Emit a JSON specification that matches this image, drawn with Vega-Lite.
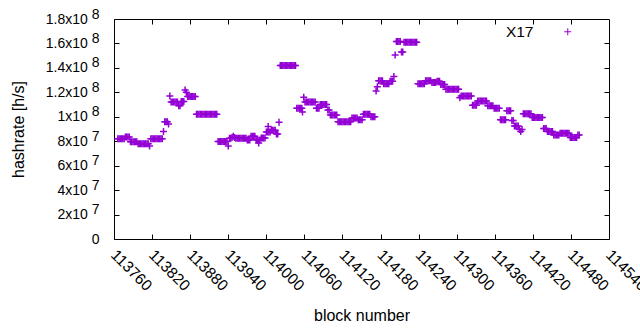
{
  "$schema": "https://vega.github.io/schema/vega-lite/v6.json",
  "width": 495,
  "height": 220,
  "autosize": {"type": "none"},
  "padding": {"left": 114, "top": 19, "right": 31, "bottom": 91},
  "background": "white",
  "config": {
    "view": {"stroke": "black", "strokeWidth": 1},
    "font": "Liberation Sans",
    "axis": {"grid": false, "domain": false, "tickColor": "black", "tickSize": -5, "tickWidth": 1, "labelColor": "black", "titleColor": "black", "labelFont": "Liberation Sans", "titleFont": "Liberation Sans", "titleFontWeight": "normal"}
  },
  "data": {"values": [
    {"b":113766,"h":8.2e7},{"b":113768,"h":8.2e7},{"b":113770,"h":8.2e7},{"b":113772,"h":8.2e7},{"b":113774,"h":8.2e7},{"b":113776,"h":8.2e7},
    {"b":113778,"h":8.35e7},{"b":113780,"h":8.35e7},{"b":113782,"h":8.35e7},{"b":113784,"h":8.35e7},
    {"b":113786,"h":7.95e7},{"b":113788,"h":7.95e7},{"b":113790,"h":7.95e7},{"b":113792,"h":7.95e7},{"b":113794,"h":7.95e7},{"b":113796,"h":7.95e7},
    {"b":113798,"h":7.8e7},{"b":113800,"h":7.8e7},{"b":113802,"h":7.8e7},{"b":113804,"h":7.8e7},{"b":113806,"h":7.8e7},{"b":113808,"h":7.8e7},{"b":113810,"h":7.8e7},{"b":113812,"h":7.8e7},{"b":113814,"h":7.8e7},
    {"b":113816,"h":7.6e7},
    {"b":113818,"h":8.2e7},{"b":113820,"h":8.2e7},{"b":113822,"h":8.2e7},{"b":113824,"h":8.2e7},{"b":113826,"h":8.2e7},{"b":113828,"h":8.2e7},{"b":113830,"h":8.2e7},{"b":113832,"h":8.2e7},{"b":113834,"h":8.2e7},{"b":113836,"h":8.2e7},
    {"b":113838,"h":8.8e7},
    {"b":113840,"h":9.6e7},{"b":113842,"h":9.6e7},{"b":113844,"h":9.6e7},
    {"b":113846,"h":9.4e7},
    {"b":113848,"h":1.17e8},
    {"b":113850,"h":1.12e8},{"b":113852,"h":1.12e8},{"b":113854,"h":1.12e8},{"b":113856,"h":1.12e8},{"b":113858,"h":1.12e8},{"b":113860,"h":1.12e8},
    {"b":113862,"h":1.09e8},{"b":113864,"h":1.09e8},
    {"b":113866,"h":1.125e8},{"b":113868,"h":1.125e8},{"b":113870,"h":1.125e8},
    {"b":113872,"h":1.22e8},{"b":113874,"h":1.2e8},
    {"b":113876,"h":1.165e8},{"b":113878,"h":1.165e8},{"b":113880,"h":1.165e8},{"b":113882,"h":1.165e8},{"b":113884,"h":1.165e8},{"b":113886,"h":1.165e8},{"b":113888,"h":1.165e8},
    {"b":113890,"h":1.02e8},{"b":113892,"h":1.02e8},{"b":113894,"h":1.02e8},{"b":113896,"h":1.02e8},{"b":113898,"h":1.02e8},{"b":113900,"h":1.02e8},{"b":113902,"h":1.02e8},{"b":113904,"h":1.02e8},{"b":113906,"h":1.02e8},{"b":113908,"h":1.02e8},{"b":113910,"h":1.02e8},{"b":113912,"h":1.02e8},{"b":113914,"h":1.02e8},{"b":113916,"h":1.02e8},{"b":113918,"h":1.02e8},{"b":113920,"h":1.02e8},{"b":113922,"h":1.02e8},
    {"b":113924,"h":7.97e7},{"b":113926,"h":7.97e7},{"b":113928,"h":7.97e7},{"b":113930,"h":7.97e7},{"b":113932,"h":7.97e7},{"b":113934,"h":7.97e7},{"b":113936,"h":7.97e7},{"b":113938,"h":7.97e7},
    {"b":113940,"h":7.6e7},
    {"b":113942,"h":8.24e7},{"b":113944,"h":8.24e7},{"b":113946,"h":8.3e7},{"b":113948,"h":8.4e7},{"b":113950,"h":8.3e7},{"b":113952,"h":8.24e7},{"b":113954,"h":8.24e7},{"b":113956,"h":8.24e7},{"b":113958,"h":8.24e7},{"b":113960,"h":8.24e7},{"b":113962,"h":8.24e7},{"b":113964,"h":8.24e7},{"b":113966,"h":8.24e7},{"b":113968,"h":8.24e7},
    {"b":113970,"h":8.1e7},{"b":113972,"h":8.1e7},{"b":113974,"h":8.1e7},
    {"b":113976,"h":8.4e7},{"b":113978,"h":8.4e7},{"b":113980,"h":8.4e7},{"b":113982,"h":8.4e7},
    {"b":113984,"h":8.1e7},{"b":113986,"h":8.1e7},{"b":113988,"h":7.85e7},{"b":113990,"h":8.1e7},
    {"b":113992,"h":8.26e7},{"b":113994,"h":8.26e7},{"b":113996,"h":8.26e7},{"b":113998,"h":8.26e7},
    {"b":114000,"h":8.75e7},{"b":114002,"h":8.75e7},{"b":114003,"h":9.2e7},{"b":114004,"h":8.75e7},{"b":114006,"h":8.75e7},
    {"b":114008,"h":8.9e7},{"b":114010,"h":8.9e7},{"b":114012,"h":8.9e7},{"b":114014,"h":8.9e7},
    {"b":114016,"h":8.6e7},{"b":114018,"h":8.6e7},
    {"b":114020,"h":9.55e7},
    {"b":114022,"h":1.42e8},{"b":114024,"h":1.42e8},{"b":114026,"h":1.42e8},{"b":114028,"h":1.42e8},{"b":114030,"h":1.42e8},{"b":114032,"h":1.42e8},{"b":114034,"h":1.42e8},{"b":114036,"h":1.42e8},{"b":114038,"h":1.42e8},{"b":114040,"h":1.42e8},{"b":114042,"h":1.42e8},{"b":114044,"h":1.42e8},{"b":114046,"h":1.42e8},
    {"b":114048,"h":1.07e8},{"b":114050,"h":1.07e8},{"b":114052,"h":1.07e8},{"b":114054,"h":1.07e8},{"b":114056,"h":1.07e8},{"b":114057,"h":1.04e8},
    {"b":114059,"h":1.16e8},
    {"b":114061,"h":1.12e8},{"b":114063,"h":1.12e8},{"b":114065,"h":1.12e8},{"b":114067,"h":1.12e8},{"b":114069,"h":1.12e8},{"b":114071,"h":1.12e8},{"b":114073,"h":1.12e8},{"b":114075,"h":1.12e8},{"b":114077,"h":1.12e8},
    {"b":114079,"h":1.07e8},{"b":114081,"h":1.07e8},{"b":114083,"h":1.07e8},
    {"b":114085,"h":1.1e8},{"b":114087,"h":1.1e8},{"b":114089,"h":1.1e8},{"b":114091,"h":1.1e8},{"b":114093,"h":1.1e8},{"b":114095,"h":1.1e8},
    {"b":114097,"h":1.055e8},{"b":114099,"h":1.055e8},
    {"b":114101,"h":1.015e8},{"b":114103,"h":1.015e8},{"b":114105,"h":1.015e8},{"b":114107,"h":1.015e8},{"b":114109,"h":1.015e8},{"b":114111,"h":1.015e8},
    {"b":114113,"h":9.6e7},{"b":114115,"h":9.6e7},{"b":114117,"h":9.6e7},{"b":114119,"h":9.6e7},{"b":114121,"h":9.6e7},{"b":114123,"h":9.6e7},{"b":114125,"h":9.6e7},{"b":114127,"h":9.6e7},{"b":114129,"h":9.6e7},{"b":114131,"h":9.6e7},{"b":114133,"h":9.6e7},
    {"b":114135,"h":9.9e7},{"b":114137,"h":9.9e7},{"b":114139,"h":9.9e7},{"b":114141,"h":9.9e7},{"b":114143,"h":9.9e7},
    {"b":114145,"h":9.75e7},{"b":114147,"h":9.75e7},{"b":114149,"h":9.75e7},{"b":114151,"h":9.75e7},
    {"b":114153,"h":1.02e8},{"b":114155,"h":1.02e8},{"b":114157,"h":1.02e8},{"b":114159,"h":1.02e8},{"b":114161,"h":1.02e8},{"b":114163,"h":1.02e8},
    {"b":114165,"h":1.0e8},{"b":114167,"h":1.0e8},{"b":114169,"h":1.0e8},{"b":114171,"h":1.0e8},
    {"b":114173,"h":1.21e8},{"b":114175,"h":1.245e8},
    {"b":114177,"h":1.295e8},{"b":114179,"h":1.295e8},{"b":114181,"h":1.295e8},{"b":114183,"h":1.295e8},
    {"b":114185,"h":1.27e8},{"b":114187,"h":1.27e8},{"b":114189,"h":1.27e8},{"b":114191,"h":1.27e8},{"b":114193,"h":1.27e8},
    {"b":114195,"h":1.29e8},{"b":114197,"h":1.29e8},{"b":114199,"h":1.29e8},{"b":114201,"h":1.33e8},
    {"b":114203,"h":1.505e8},
    {"b":114205,"h":1.615e8},{"b":114207,"h":1.615e8},{"b":114209,"h":1.615e8},{"b":114211,"h":1.615e8},
    {"b":114213,"h":1.53e8},{"b":114215,"h":1.53e8},
    {"b":114217,"h":1.61e8},{"b":114219,"h":1.61e8},{"b":114221,"h":1.61e8},{"b":114223,"h":1.61e8},{"b":114225,"h":1.61e8},{"b":114227,"h":1.61e8},{"b":114229,"h":1.61e8},{"b":114231,"h":1.61e8},{"b":114233,"h":1.61e8},{"b":114235,"h":1.61e8},{"b":114237,"h":1.61e8},
    {"b":114239,"h":1.27e8},{"b":114241,"h":1.27e8},{"b":114243,"h":1.27e8},{"b":114245,"h":1.27e8},{"b":114247,"h":1.27e8},{"b":114249,"h":1.27e8},
    {"b":114251,"h":1.295e8},{"b":114253,"h":1.295e8},{"b":114255,"h":1.295e8},{"b":114257,"h":1.295e8},{"b":114259,"h":1.295e8},
    {"b":114261,"h":1.28e8},{"b":114263,"h":1.28e8},{"b":114265,"h":1.28e8},{"b":114267,"h":1.28e8},
    {"b":114269,"h":1.29e8},{"b":114271,"h":1.29e8},{"b":114273,"h":1.29e8},
    {"b":114275,"h":1.265e8},{"b":114277,"h":1.265e8},{"b":114279,"h":1.265e8},{"b":114281,"h":1.265e8},
    {"b":114283,"h":1.225e8},{"b":114285,"h":1.225e8},{"b":114287,"h":1.225e8},{"b":114289,"h":1.225e8},{"b":114291,"h":1.225e8},{"b":114293,"h":1.225e8},{"b":114295,"h":1.225e8},{"b":114297,"h":1.225e8},{"b":114299,"h":1.225e8},{"b":114301,"h":1.225e8},{"b":114303,"h":1.225e8},
    {"b":114305,"h":1.155e8},
    {"b":114307,"h":1.17e8},{"b":114309,"h":1.17e8},{"b":114311,"h":1.17e8},{"b":114313,"h":1.17e8},{"b":114315,"h":1.17e8},{"b":114317,"h":1.17e8},{"b":114319,"h":1.17e8},{"b":114321,"h":1.17e8},{"b":114323,"h":1.17e8},
    {"b":114325,"h":1.095e8},{"b":114327,"h":1.095e8},{"b":114329,"h":1.095e8},{"b":114331,"h":1.095e8},
    {"b":114333,"h":1.13e8},{"b":114335,"h":1.13e8},{"b":114337,"h":1.13e8},{"b":114339,"h":1.13e8},{"b":114341,"h":1.13e8},{"b":114343,"h":1.13e8},{"b":114345,"h":1.13e8},{"b":114347,"h":1.13e8},
    {"b":114349,"h":1.09e8},{"b":114351,"h":1.09e8},{"b":114353,"h":1.09e8},{"b":114355,"h":1.09e8},{"b":114357,"h":1.09e8},
    {"b":114359,"h":1.07e8},{"b":114361,"h":1.07e8},{"b":114363,"h":1.07e8},{"b":114365,"h":1.07e8},{"b":114367,"h":1.07e8},
    {"b":114369,"h":9.75e7},{"b":114371,"h":9.75e7},{"b":114373,"h":9.75e7},{"b":114375,"h":9.75e7},{"b":114377,"h":9.75e7},
    {"b":114379,"h":1.05e8},{"b":114381,"h":1.05e8},{"b":114383,"h":1.05e8},{"b":114385,"h":1.05e8},
    {"b":114387,"h":9.7e7},{"b":114389,"h":9.7e7},
    {"b":114391,"h":9.25e7},{"b":114393,"h":9.25e7},{"b":114395,"h":9.25e7},{"b":114397,"h":9.25e7},
    {"b":114399,"h":8.95e7},{"b":114401,"h":8.8e7},{"b":114403,"h":8.95e7},
    {"b":114405,"h":1.025e8},{"b":114407,"h":1.025e8},{"b":114409,"h":1.025e8},{"b":114411,"h":1.025e8},{"b":114413,"h":1.025e8},{"b":114415,"h":1.025e8},{"b":114417,"h":1.025e8},
    {"b":114419,"h":9.95e7},{"b":114421,"h":9.95e7},{"b":114423,"h":9.95e7},{"b":114425,"h":9.95e7},{"b":114427,"h":9.95e7},{"b":114429,"h":9.95e7},{"b":114431,"h":9.95e7},{"b":114433,"h":9.95e7},{"b":114435,"h":9.95e7},
    {"b":114437,"h":9.05e7},{"b":114439,"h":9.05e7},{"b":114441,"h":9.05e7},
    {"b":114443,"h":8.8e7},{"b":114445,"h":8.8e7},{"b":114447,"h":8.8e7},{"b":114449,"h":8.8e7},{"b":114451,"h":8.8e7},
    {"b":114453,"h":8.5e7},{"b":114455,"h":8.5e7},{"b":114457,"h":8.5e7},{"b":114459,"h":8.5e7},{"b":114461,"h":8.5e7},
    {"b":114463,"h":8.65e7},{"b":114465,"h":8.65e7},{"b":114467,"h":8.65e7},{"b":114469,"h":8.65e7},{"b":114471,"h":8.65e7},{"b":114473,"h":8.65e7},{"b":114475,"h":8.65e7},{"b":114477,"h":8.65e7},
    {"b":114479,"h":8.3e7},{"b":114481,"h":8.3e7},{"b":114483,"h":8.3e7},{"b":114485,"h":8.3e7},{"b":114487,"h":8.3e7},{"b":114489,"h":8.3e7},
    {"b":114491,"h":8.5e7},{"b":114493,"h":8.5e7}
  ]},
  "layer": [
    {
      "mark": {"type": "point", "shape": "M-1,0H1M0,-1V1", "size": 49, "filled": false, "strokeWidth": 1.5, "opacity": 1},
      "encoding": {
        "x": {"field": "b", "type": "quantitative", "scale": {"domain": [113760, 114540], "nice": false, "zero": false},
          "axis": {"orient": "bottom", "values": [113760,113820,113880,113940,114000,114060,114120,114180,114240,114300,114360,114420,114480,114540], "format": "d", "labelAngle": 45, "labelAlign": "left", "labelBaseline": "top", "labelPadding": 13, "labelOffset": 4, "labelFontSize": 15.5, "labelFlush": false, "labelOverlap": false, "labelBound": false, "title": "block number", "titleFontSize": 16, "titlePadding": 14}},
        "y": {"field": "h", "type": "quantitative", "scale": {"domain": [0, 180000000], "nice": false, "zero": true},
          "axis": {"orient": "left", "values": [0,20000000,40000000,60000000,80000000,100000000,120000000,140000000,160000000,180000000], "labelExpr": "datum.value == 0 ? ['', '0'] : (datum.value >= 1e8 ? ['8', format(datum.value/1e8, '~g') + 'x10\u00a0\u00a0\u00a0\u200b'] : ['7', format(datum.value/1e7, '~g') + 'x10\u00a0\u00a0\u00a0\u200b'])", "labelLineHeight": 5, "labelOffset": -5, "labelPadding": 20, "labelFontSize": 14, "labelFlush": false, "labelOverlap": false, "title": "hashrate [h/s]", "titleFontSize": 16, "titlePadding": 19}},
        "color": {"datum": "X17", "type": "nominal", "scale": {"range": ["#9400d3"]},
          "legend": {"title": null, "orient": "none", "legendX": 446, "legendY": 5, "padding": 0, "symbolType": "M-1,0H1M0,-1V1", "symbolSize": 49, "symbolStrokeWidth": 1, "labelAlign": "right", "labelOffset": -42, "labelFontSize": 15.5, "labelFont": "Liberation Sans", "labelColor": "black"}}
      }
    },
    {
      "transform": [{"filter": "datum.b < 113780"}],
      "mark": {"type": "point", "opacity": 0},
      "encoding": {
        "x": {"field": "b", "type": "quantitative", "axis": {"orient": "top", "values": [113820,113880,113940,114000,114060,114120,114180,114240,114300,114360,114420,114480], "labels": false, "title": null}},
        "y": {"field": "h", "type": "quantitative", "axis": {"orient": "right", "values": [20000000,40000000,60000000,80000000,100000000,120000000,140000000,160000000], "labels": false, "title": null}}
      }
    }
  ],
  "resolve": {"axis": {"x": "independent", "y": "independent"}}
}
